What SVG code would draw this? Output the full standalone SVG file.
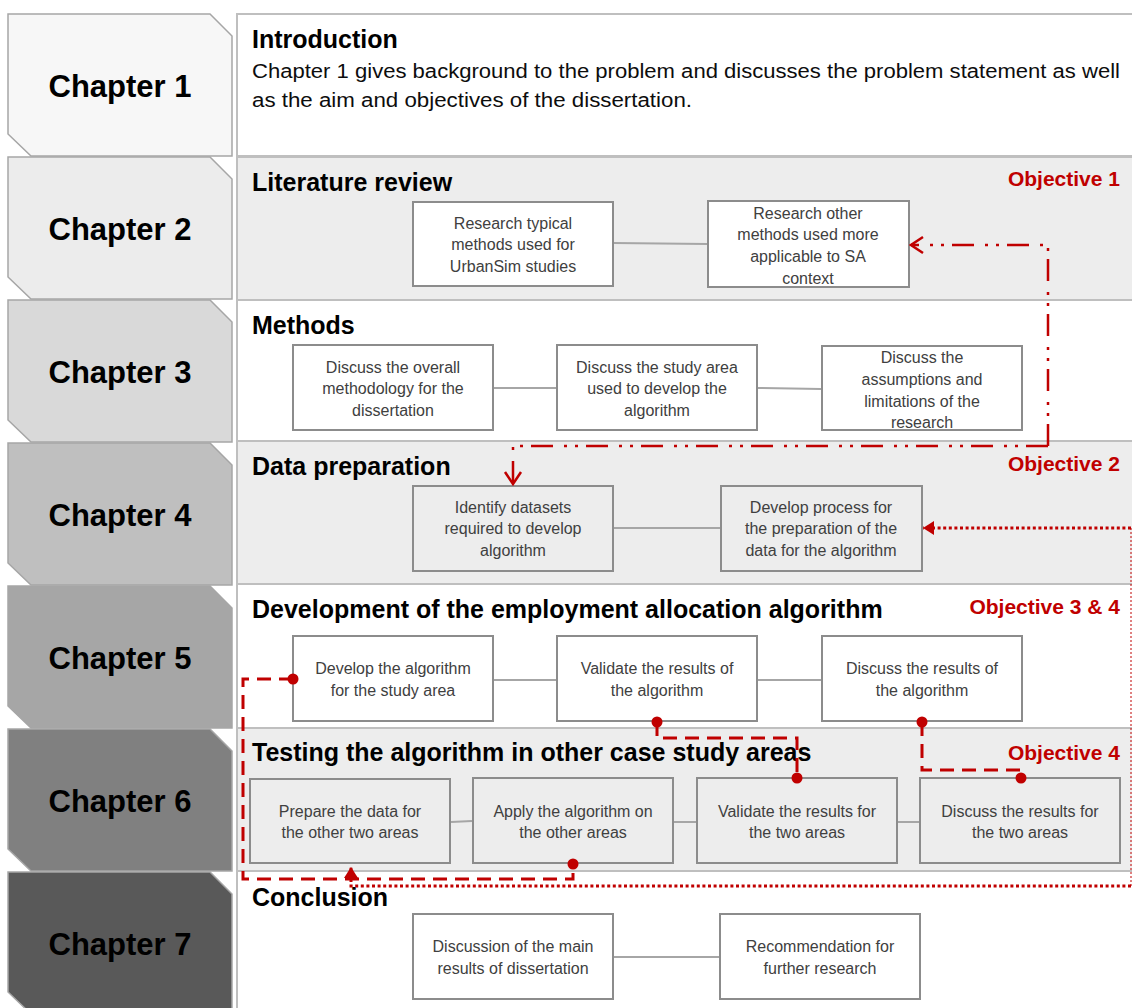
<svg xmlns="http://www.w3.org/2000/svg" width="1132" height="1008" viewBox="0 0 1132 1008">
  <style>
    .chap { stroke: #a6a6a6; stroke-width: 1.5; }
    .chapLabel { font-family: "Liberation Sans", Arial, sans-serif; font-weight: bold; font-size: 31px; fill: #000; text-anchor: middle; }
    .panel { stroke: #bfbfbf; stroke-width: 2; }
    .panelW { fill: #ffffff; }
    .panelG { fill: #ededed; }
    .heading { font-family: "Liberation Sans", Arial, sans-serif; font-weight: bold; font-size: 25px; fill: #000; }
    .body { font-family: "Liberation Sans", Arial, sans-serif; font-size: 20px; fill: #0d0d0d; }
    .obj { font-family: "Liberation Sans", Arial, sans-serif; font-weight: bold; font-size: 21px; fill: #c00000; text-anchor: end; }
    .box { stroke: #8c8c8c; stroke-width: 2; }
    .boxW { fill: #ffffff; }
    .boxG { fill: #ededed; }
    .bt { font-family: "Liberation Sans", Arial, sans-serif; font-size: 16px; fill: #404040; text-anchor: middle; }
    .link { stroke: #a6a6a6; stroke-width: 2; fill: none; }
    .ddot { stroke: #c00000; stroke-width: 2.5; fill: none; stroke-dasharray: 22 8 3 8 3 11; }
    .dash { stroke: #c00000; stroke-width: 3; fill: none; stroke-dasharray: 14 8; }
    .dot { stroke: #c00000; stroke-width: 3; fill: none; stroke-dasharray: 3 2.6; }
    .thindot { stroke: #c00000; stroke-width: 1; fill: none; stroke-dasharray: 2 2; }
  </style>
  <defs>
    <marker id="openArrow" markerUnits="userSpaceOnUse" markerWidth="16" markerHeight="20" viewBox="-2 -2 16 20" refX="12" refY="8" orient="auto">
      <path d="M0,0 L12,8 L0,16" fill="none" stroke="#c00000" stroke-width="2.5"/>
    </marker>
    <marker id="solidArrow" markerUnits="userSpaceOnUse" markerWidth="12" markerHeight="14" viewBox="0 0 12 14" refX="11" refY="7" orient="auto">
      <path d="M0,0 L11,7 L0,14 Z" fill="#c00000"/>
    </marker>
    <marker id="dotEnd" markerUnits="userSpaceOnUse" markerWidth="12" markerHeight="12" viewBox="0 0 12 12" refX="6" refY="6" orient="auto">
      <circle cx="6" cy="6" r="5.5" fill="#c00000"/>
    </marker>
  </defs>

  <rect width="1132" height="1008" fill="#ffffff"/>

  <!-- Chapter tabs -->
  <g id="chapter1"><path class="chap" fill="#f7f7f7" d="M8,14 H210 L232,36 V156 H31 L8,134 Z"/><text class="chapLabel" x="120" y="97">Chapter 1</text></g>
  <g id="chapter2"><path class="chap" fill="#ececec" d="M8,157 H210 L232,179 V299 H31 L8,277 Z"/><text class="chapLabel" x="120" y="240">Chapter 2</text></g>
  <g id="chapter3"><path class="chap" fill="#d9d9d9" d="M8,300 H210 L232,322 V442 H31 L8,420 Z"/><text class="chapLabel" x="120" y="383">Chapter 3</text></g>
  <g id="chapter4"><path class="chap" fill="#bfbfbf" d="M8,443 H210 L232,465 V585 H31 L8,563 Z"/><text class="chapLabel" x="120" y="526">Chapter 4</text></g>
  <g id="chapter5"><path class="chap" fill="#a6a6a6" d="M8,586 H210 L232,608 V728 H31 L8,706 Z"/><text class="chapLabel" x="120" y="669">Chapter 5</text></g>
  <g id="chapter6"><path class="chap" fill="#808080" d="M8,729 H210 L232,751 V871 H31 L8,849 Z"/><text class="chapLabel" x="120" y="812">Chapter 6</text></g>
  <g id="chapter7"><path class="chap" fill="#595959" d="M8,872 H210 L232,894 V1014 H31 L8,992 Z"/><text class="chapLabel" x="120" y="955">Chapter 7</text></g>

  <!-- Chapter panels -->
  <g id="panel1">
    <rect class="panel panelW" x="237" y="14" width="900" height="142"/>
    <text class="heading" x="252" y="48">Introduction</text>
    <text class="body" x="252" y="78" textLength="868" lengthAdjust="spacingAndGlyphs">Chapter 1 gives background to the problem and discusses the problem statement as well</text>
    <text class="body" x="252" y="107" textLength="440" lengthAdjust="spacingAndGlyphs">as the aim and objectives of the dissertation.</text>
  </g>
  <g id="panel2">
    <rect class="panel panelG" x="237" y="157" width="900" height="143"/>
    <text class="heading" x="252" y="191">Literature review</text>
    <text class="obj" x="1120" y="186">Objective 1</text>
  </g>
  <g id="panel3">
    <rect class="panel panelW" x="237" y="300" width="900" height="141"/>
    <text class="heading" x="252" y="334">Methods</text>
  </g>
  <g id="panel4">
    <rect class="panel panelG" x="237" y="441" width="900" height="143"/>
    <text class="heading" x="252" y="475">Data preparation</text>
    <text class="obj" x="1120" y="471">Objective 2</text>
  </g>
  <g id="panel5">
    <rect class="panel panelW" x="237" y="584" width="900" height="144"/>
    <text class="heading" x="252" y="618">Development of the employment allocation algorithm</text>
    <text class="obj" x="1120" y="614">Objective 3 &amp; 4</text>
  </g>
  <g id="panel6">
    <rect class="panel panelG" x="237" y="728" width="900" height="143"/>
    <text class="heading" x="252" y="761">Testing the algorithm in other case study areas</text>
    <text class="obj" x="1120" y="760">Objective 4</text>
  </g>
  <g id="panel7">
    <rect class="panel panelW" x="237" y="871" width="900" height="145"/>
    <text class="heading" x="252" y="906">Conclusion</text>
  </g>

  <!-- Chapter 2 boxes -->
  <g id="box-typical-methods">
    <rect class="box boxW" x="413" y="202" width="200" height="84"/>
    <text class="bt" x="513" y="229">Research typical</text>
    <text class="bt" x="513" y="250">methods used for</text>
    <text class="bt" x="513" y="272">UrbanSim studies</text>
  </g>
  <g id="box-other-methods">
    <rect class="box boxW" x="708" y="201" width="201" height="86"/>
    <text class="bt" x="808" y="219">Research other</text>
    <text class="bt" x="808" y="240">methods used more</text>
    <text class="bt" x="808" y="262">applicable to SA</text>
    <text class="bt" x="808" y="284">context</text>
  </g>

  <!-- Chapter 3 boxes -->
  <g id="box-methodology">
    <rect class="box boxW" x="293" y="345" width="200" height="85"/>
    <text class="bt" x="393" y="373">Discuss the overall</text>
    <text class="bt" x="393" y="394">methodology for the</text>
    <text class="bt" x="393" y="416">dissertation</text>
  </g>
  <g id="box-study-area">
    <rect class="box boxW" x="557" y="345" width="200" height="85"/>
    <text class="bt" x="657" y="373">Discuss the study area</text>
    <text class="bt" x="657" y="394">used to develop the</text>
    <text class="bt" x="657" y="416">algorithm</text>
  </g>
  <g id="box-assumptions">
    <rect class="box boxW" x="822" y="346" width="200" height="84"/>
    <text class="bt" x="922" y="363">Discuss the</text>
    <text class="bt" x="922" y="385">assumptions and</text>
    <text class="bt" x="922" y="407">limitations of the</text>
    <text class="bt" x="922" y="428">research</text>
  </g>

  <!-- Chapter 4 boxes -->
  <g id="box-datasets">
    <rect class="box boxG" x="413" y="486" width="200" height="85"/>
    <text class="bt" x="513" y="513">Identify datasets</text>
    <text class="bt" x="513" y="534">required to develop</text>
    <text class="bt" x="513" y="556">algorithm</text>
  </g>
  <g id="box-preparation">
    <rect class="box boxG" x="721" y="486" width="201" height="85"/>
    <text class="bt" x="821" y="513">Develop process for</text>
    <text class="bt" x="821" y="534">the preparation of the</text>
    <text class="bt" x="821" y="556">data for the algorithm</text>
  </g>

  <!-- Chapter 5 boxes -->
  <g id="box-develop">
    <rect class="box boxW" x="293" y="636" width="200" height="85"/>
    <text class="bt" x="393" y="674">Develop the algorithm</text>
    <text class="bt" x="393" y="696">for the study area</text>
  </g>
  <g id="box-validate">
    <rect class="box boxW" x="557" y="636" width="200" height="85"/>
    <text class="bt" x="657" y="674">Validate the results of</text>
    <text class="bt" x="657" y="696">the algorithm</text>
  </g>
  <g id="box-discuss">
    <rect class="box boxW" x="822" y="636" width="200" height="85"/>
    <text class="bt" x="922" y="674">Discuss the results of</text>
    <text class="bt" x="922" y="696">the algorithm</text>
  </g>

  <!-- Chapter 6 boxes -->
  <g id="box-prepare-other">
    <rect class="box boxG" x="250" y="779" width="200" height="84"/>
    <text class="bt" x="350" y="817">Prepare the data for</text>
    <text class="bt" x="350" y="838">the other two areas</text>
  </g>
  <g id="box-apply">
    <rect class="box boxG" x="473" y="778" width="200" height="85"/>
    <text class="bt" x="573" y="817">Apply the algorithm on</text>
    <text class="bt" x="573" y="838">the other areas</text>
  </g>
  <g id="box-validate-two">
    <rect class="box boxG" x="697" y="778" width="200" height="85"/>
    <text class="bt" x="797" y="817">Validate the results for</text>
    <text class="bt" x="797" y="838">the two areas</text>
  </g>
  <g id="box-discuss-two">
    <rect class="box boxG" x="920" y="778" width="200" height="85"/>
    <text class="bt" x="1020" y="817">Discuss the results for</text>
    <text class="bt" x="1020" y="838">the two areas</text>
  </g>

  <!-- Chapter 7 boxes -->
  <g id="box-main-results">
    <rect class="box boxW" x="413" y="914" width="200" height="85"/>
    <text class="bt" x="513" y="952">Discussion of the main</text>
    <text class="bt" x="513" y="974">results of dissertation</text>
  </g>
  <g id="box-recommendation">
    <rect class="box boxW" x="720" y="914" width="200" height="85"/>
    <text class="bt" x="820" y="952">Recommendation for</text>
    <text class="bt" x="820" y="974">further research</text>
  </g>

  <!-- Connectors (drawn last so end dots sit on top of box edges) -->
  <g id="connectors">
    <!-- grey links between boxes -->
    <path class="link" d="M614,243 L707,244"/>
    <path class="link" d="M494,388 H556"/>
    <path class="link" d="M758,388 L821,389"/>
    <path class="link" d="M614,528 H720"/>
    <path class="link" d="M494,680 H556"/>
    <path class="link" d="M758,680 H821"/>
    <path class="link" d="M451,822 L472,821"/>
    <path class="link" d="M674,822 H696"/>
    <path class="link" d="M898,822 H919"/>
    <path class="link" d="M614,957 H719"/>

    <!-- red flow lines -->
    <path class="ddot" d="M1048,446 V245 H911" marker-end="url(#openArrow)"/>
    <path class="ddot" d="M1048,446 H513 V484" marker-end="url(#openArrow)"/>
    <path class="dot" d="M1131,528 H923" marker-end="url(#solidArrow)"/>
    <path class="thindot" d="M1131,528 V886"/>
    <path class="dot" d="M1131,886 H351 V867" marker-end="url(#solidArrow)"/>
    <path class="dash" d="M293,679 H243 V879 H573 V864" marker-start="url(#dotEnd)" marker-end="url(#dotEnd)"/>
    <path class="dash" d="M657,722 V738 H797 V778" marker-start="url(#dotEnd)" marker-end="url(#dotEnd)"/>
    <path class="dash" d="M922,722 V770 H1021 V778" marker-start="url(#dotEnd)" marker-end="url(#dotEnd)"/>
  </g>
</svg>
